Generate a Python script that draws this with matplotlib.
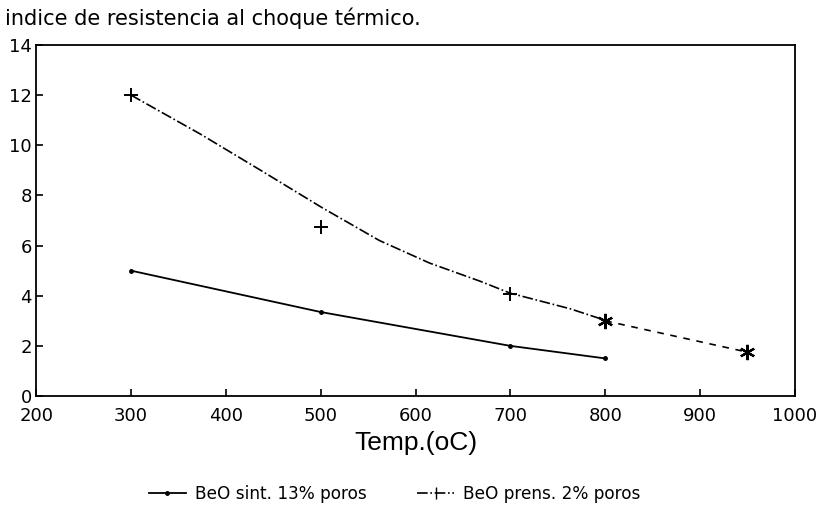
import matplotlib.pyplot as plt

plt.rcParams['font.family'] = ['DejaVu Sans']

# datos
temp_sint = [300, 500, 700, 800]
indice_sint = [5.0, 3.35, 2.0, 1.5]

temp_prens = [300, 500, 700]
indice_prens = [12.0, 6.75, 4.05]

# curva ajustada (trazo suave de la serie prensada)
temp_ajuste = [300, 373, 439, 502, 562, 615, 668, 700, 763, 800]
indice_ajuste = [12.0, 10.45, 8.95, 7.5, 6.2, 5.3, 4.58, 4.1, 3.48, 3.02]

# extrapolacion (asteriscos)
temp_extra = [800, 950]
indice_extra = [3.0, 1.75]

x_ticks = [200, 300, 400, 500, 600, 700, 800, 900, 1000]
y_ticks = [0, 2, 4, 6, 8, 10, 12, 14]

fig = plt.figure(figsize=(8.22, 5.17), dpi=100)
ax = fig.add_axes([0.044, 0.234, 0.923, 0.679])

ax.plot(temp_sint, indice_sint, color='black', lw=1.3, ls='-',
        marker='.', ms=5, label='BeO sint. 13% poros')
ax.plot(temp_ajuste, indice_ajuste, color='black', lw=1.2, ls='-.')
ax.plot(temp_prens, indice_prens, color='black', lw=0, marker='+', ms=10,
        mew=1.4)
ax.plot(temp_extra, indice_extra, color='black', lw=1.2, ls=(0, (4, 4)),
        marker=(6, 2, 0), ms=11, mew=1.6)

# entrada de leyenda para la serie prensada
ax.plot([], [], color='black', lw=1.2, ls='-.', marker='|', ms=8,
        label='BeO prens. 2% poros')

ax.set_xlim(200, 1000)
ax.set_ylim(0, 14)
ax.set_xticks(x_ticks)
ax.set_yticks(y_ticks)
ax.tick_params(direction='in', length=5, width=1.2, labelsize=13)
ax.tick_params(axis='x', pad=8)
ax.tick_params(axis='y', pad=3)
for s in ax.spines.values():
    s.set_linewidth(1.3)
    s.set_color('black')

ax.set_xlabel('Temp.(oC)', fontsize=19, fontfamily='Liberation Sans',
              labelpad=4)

fig.text(0.006, 0.965, 'indice de resistencia al choque térmico.',
         fontsize=15, color='black', va='center', ha='left')

fig.legend(loc='center', bbox_to_anchor=(0.48, 0.045), ncol=2, frameon=False,
           fontsize=12.2, handlelength=2.2, columnspacing=3.0,
           handletextpad=0.5)

fig.savefig('out.png', dpi=100)
